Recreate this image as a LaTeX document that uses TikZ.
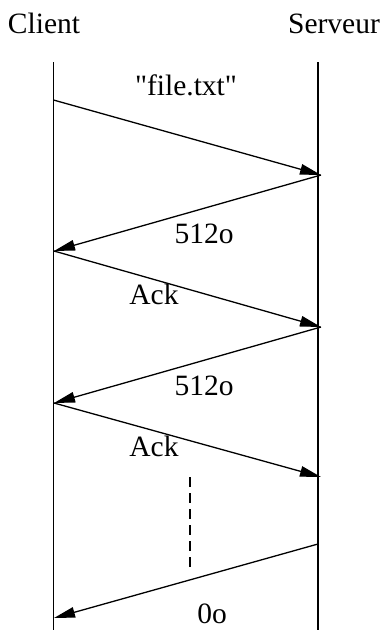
\documentclass[tikz,border=0pt]{standalone}
\usepackage{fontspec}
% TeX input mapping off, so that " stays a straight quote
\setmainfont[Ligatures=TeXOff]{Liberation Serif}
\usetikzlibrary{arrows.meta}
\begin{document}
\begin{tikzpicture}[x=1pt,y=-1pt,
  lifeline/.style={line width=1.3pt},
  msg/.style={line width=1.3pt,-{Triangle[length=21pt,width=10.5pt]}},
  lbl/.style={anchor=base,inner sep=0pt,font=\fontsize{29.5}{35}\selectfont},
  gap/.style={line width=1.3pt,dash pattern=on 10pt off 6pt}]
  \useasboundingbox (0,0) rectangle (387,630);

  % actors
  \node[lbl] (client) at (44,33) {Client};
  \node[lbl] (serveur) at (334,33) {Serveur};

  % lifelines
  \coordinate (ctop) at (53.5,62);
  \coordinate (cbot) at (53.5,631);
  \coordinate (stop) at (318,62);
  \coordinate (sbot) at (318,631);
  \draw[lifeline] (ctop) -- (cbot);
  \draw[lifeline] (stop) -- (sbot);

  % message end points
  \coordinate (c1) at (53.5,100);
  \coordinate (s1) at (321,175);
  \coordinate (c2) at (54,251);
  \coordinate (s2) at (321,327);
  \coordinate (c3) at (54,403);
  \coordinate (s3) at (321,477);
  \coordinate (s4) at (318,544);
  \coordinate (c4) at (54,618);

  \draw[msg] (c1) -- (s1);
  \draw[msg] (s1) -- (c2);
  \draw[msg] (c2) -- (s2);
  \draw[msg] (s2) -- (c3);
  \draw[msg] (c3) -- (s3);
  \draw[msg] (s4) -- (c4);

  % elided exchanges
  \coordinate (g1) at (190,477);
  \coordinate (g2) at (190,568);
  \draw[gap] (g1) -- (g2);

  % message labels
  \node[lbl] (m1) at (186,95) {"file.txt"};
  \node[lbl] (m2) at (204,243) {512o};
  \node[lbl] (m3) at (154,304) {Ack};
  \node[lbl] (m4) at (204,395) {512o};
  \node[lbl] (m5) at (154,456) {Ack};
  \node[lbl] (m6) at (212,623) {0o};
\end{tikzpicture}
\end{document}
